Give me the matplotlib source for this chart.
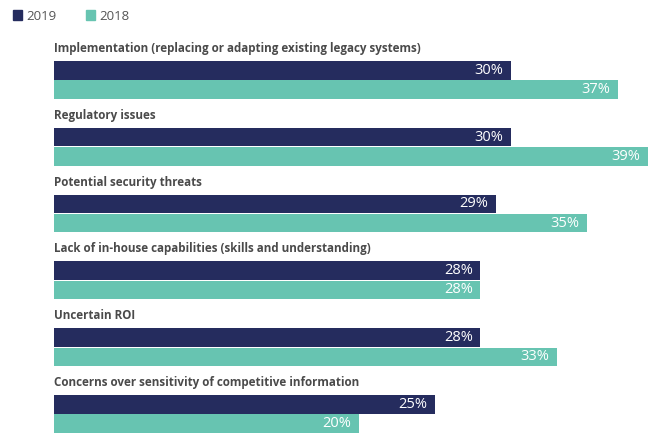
import matplotlib.pyplot as plt
from matplotlib.patches import Patch

categories = [
    "Implementation (replacing or adapting existing legacy systems)",
    "Regulatory issues",
    "Potential security threats",
    "Lack of in-house capabilities (skills and understanding)",
    "Uncertain ROI",
    "Concerns over sensitivity of competitive information",
]
vals_2019 = [30, 30, 29, 28, 28, 25]
vals_2018 = [37, 39, 35, 28, 33, 20]
series_names = ["2019", "2018"]

navy = "#252c5e"
teal = "#67c4b1"
label_grey = "#4a4a4a"

W, H = 654, 438
fig = plt.figure(figsize=(W / 100, H / 100), dpi=100)
# axes in pixel-like units: x in %, y in pixels from top
left_px = 54
px_per_pct = 15.23
ax = fig.add_axes([left_px / W, 0, 1 - left_px / W, 1])
ax.set_xlim(0, (W - left_px) / px_per_pct)
ax.set_ylim(H, 0)
ax.axis("off")

first_top = 61
pitch = 66.8
bar_h = 18.5
gap = 0.8

for i, cat in enumerate(categories):
    top = first_top + i * pitch
    y19 = top + bar_h / 2
    y18 = top + bar_h + gap + bar_h / 2
    ax.barh(y19, vals_2019[i], height=bar_h, color=navy)
    ax.barh(y18, vals_2018[i], height=bar_h, color=teal)
    for y, v in [(y19, vals_2019[i]), (y18, vals_2018[i])]:
        ax.annotate(f"{v}%", (v, y), xytext=(-5.5, 0), textcoords="offset points",
                    ha="right", va="center", color="white", fontsize=10.5,
                    family=["Open Sans", "DejaVu Sans"])
    ax.text(0, top - 12.5, cat, ha="left", va="center", color=label_grey,
            fontsize=8.4, fontweight="bold",
            family=["Open Sans", "DejaVu Sans"])

handles = [Patch(color=navy), Patch(color=teal)]
leg = fig.legend(handles, series_names, loc="upper left", bbox_to_anchor=(0.002, 1.005),
                 ncol=2, frameon=False, handlelength=0.7, handleheight=0.7,
                 handletextpad=0.3, columnspacing=2.2,
                 prop={"family": "Open Sans", "size": 9.5})
for t in leg.get_texts():
    t.set_color("#555555")

fig.savefig("out.png", dpi=100)
